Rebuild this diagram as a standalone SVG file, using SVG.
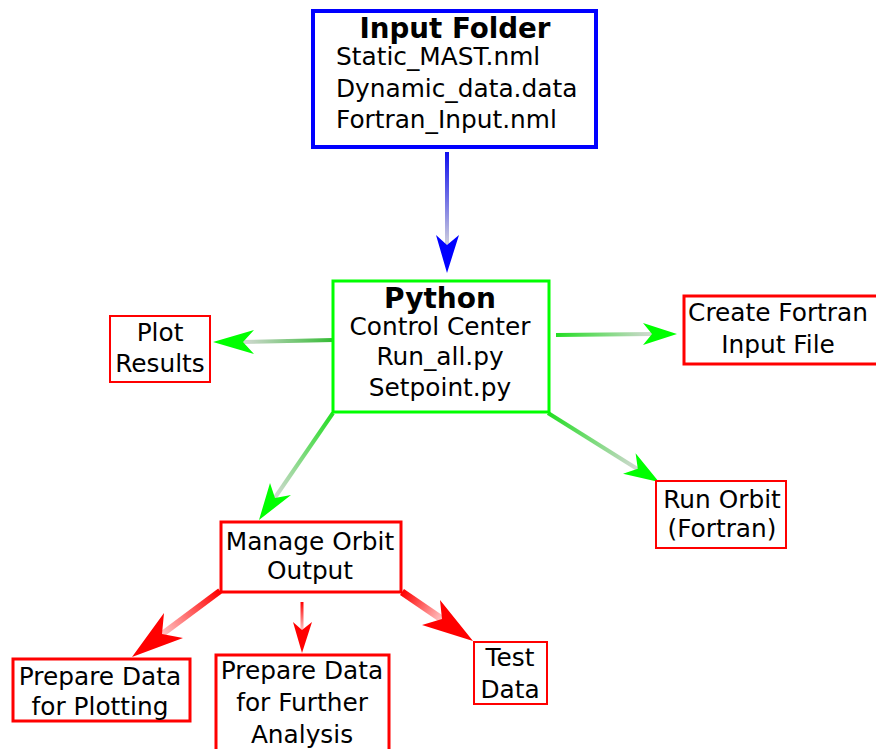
<svg xmlns="http://www.w3.org/2000/svg" width="876" height="749" viewBox="0 0 876 749">
<style>
text { font-family: "DejaVu Sans", "Liberation Sans", sans-serif; fill: #000; }
.t { font-size: 24.8px; }
.b { font-size: 27.7px; font-weight: bold; }
.c { text-anchor: middle; }
.box { fill: #fff; }
.blue { stroke: #0000ff; stroke-width: 4; }
.green { stroke: #00ff00; stroke-width: 3; }
.red2 { stroke: #ff0000; stroke-width: 2; }
.red3 { stroke: #ff0000; stroke-width: 3; }
.ln { fill: none; stroke-linecap: butt; }
.hb { fill: #0000ff; }
.hg { fill: #00ff00; }
.hr { fill: #ff0000; }
</style>
<defs>
<linearGradient id="gB" gradientUnits="userSpaceOnUse" x1="447" y1="153" x2="447" y2="245"><stop offset="0" stop-color="#1010ee"/><stop offset="1" stop-color="#d0d0dd"/></linearGradient>
<linearGradient id="gPl" gradientUnits="userSpaceOnUse" x1="333" y1="340" x2="243" y2="342"><stop offset="0" stop-color="#33bb33"/><stop offset="1" stop-color="#d4d8d4"/></linearGradient>
<linearGradient id="gCr" gradientUnits="userSpaceOnUse" x1="556" y1="335" x2="652" y2="334"><stop offset="0" stop-color="#22dd22"/><stop offset="1" stop-color="#d4d8d4"/></linearGradient>
<linearGradient id="gRo" gradientUnits="userSpaceOnUse" x1="548" y1="413" x2="638" y2="469"><stop offset="0" stop-color="#22dd22"/><stop offset="1" stop-color="#d4d8d4"/></linearGradient>
<linearGradient id="gMo" gradientUnits="userSpaceOnUse" x1="333" y1="413" x2="274" y2="498"><stop offset="0" stop-color="#22dd22"/><stop offset="1" stop-color="#d4d8d4"/></linearGradient>
<linearGradient id="gR1" gradientUnits="userSpaceOnUse" x1="220" y1="591" x2="162" y2="634"><stop offset="0" stop-color="#ff0000"/><stop offset="1" stop-color="#ffc4c4"/></linearGradient>
<linearGradient id="gR2" gradientUnits="userSpaceOnUse" x1="302" y1="602" x2="302" y2="630"><stop offset="0" stop-color="#ff0000"/><stop offset="1" stop-color="#ffc4c4"/></linearGradient>
<linearGradient id="gR3" gradientUnits="userSpaceOnUse" x1="402" y1="592" x2="442" y2="619"><stop offset="0" stop-color="#ff0000"/><stop offset="1" stop-color="#ffc4c4"/></linearGradient>
</defs>

<g id="connectors">
  <line class="ln" x1="447" y1="152" x2="447" y2="246" stroke="url(#gB)" stroke-width="4"/>
  <polygon class="hb" points="447,273 436,235 447,245 459,235"/>

  <line class="ln" x1="333" y1="340" x2="242" y2="342" stroke="url(#gPl)" stroke-width="4"/>
  <polygon class="hg" points="213,342 254,330 243,342 254,354"/>

  <line class="ln" x1="556" y1="335" x2="653" y2="334" stroke="url(#gCr)" stroke-width="4"/>
  <polygon class="hg" points="677,334 643,323 652,334 643,345"/>

  <line class="ln" x1="548" y1="413" x2="639" y2="470" stroke="url(#gRo)" stroke-width="4"/>
  <polygon class="hg" points="659,482 623,473.7 637.8,468.8 635.6,453.3"/>

  <line class="ln" x1="333" y1="413" x2="274" y2="499" stroke="url(#gMo)" stroke-width="4"/>
  <polygon class="hg" points="259,520 270,483 275,498 291,495"/>

  <line class="ln" x1="220" y1="591" x2="161" y2="635" stroke="url(#gR1)" stroke-width="6"/>
  <polygon class="hr" points="132,657 164,613 162,634 183,638"/>

  <line class="ln" x1="302" y1="602" x2="302" y2="631" stroke="url(#gR2)" stroke-width="3"/>
  <polygon class="hr" points="302,653 293,622 302,630 312,622"/>

  <line class="ln" x1="402" y1="592" x2="443" y2="620" stroke="url(#gR3)" stroke-width="7"/>
  <polygon class="hr" points="473,641 440,600 442,619 422,625"/>
</g>

<g id="input-folder">
  <rect class="box blue" x="313" y="11" width="283" height="136"/>
  <text class="b c" x="455" y="38">Input Folder</text>
  <text class="t" x="336" y="65">Static_MAST.nml</text>
  <text class="t" x="336" y="97">Dynamic_data.data</text>
  <text class="t" x="336" y="128">Fortran_Input.nml</text>
</g>

<g id="python">
  <rect class="box green" x="333" y="281" width="216" height="131"/>
  <text class="c" x="440" y="308" style="font-size:28px;font-weight:bold">Python</text>
  <text class="t c" x="440" y="335">Control Center</text>
  <text class="t c" x="440" y="365">Run_all.py</text>
  <text class="t c" x="440" y="396">Setpoint.py</text>
</g>

<g id="plot-results">
  <rect class="box red2" x="110" y="316" width="100" height="66"/>
  <text class="t c" x="160" y="341">Plot</text>
  <text class="t c" x="160" y="372">Results</text>
</g>

<g id="create-fortran">
  <rect class="box red3" x="684" y="296" width="194" height="68"/>
  <text class="t c" x="778" y="321">Create Fortran</text>
  <text class="t c" x="778" y="353">Input File</text>
</g>

<g id="run-orbit">
  <rect class="box red2" x="656" y="481" width="130" height="67"/>
  <text class="t c" x="722" y="508">Run Orbit</text>
  <text class="t c" x="722" y="537">(Fortran)</text>
</g>

<g id="manage-orbit">
  <rect class="box red3" x="221" y="522" width="180" height="70"/>
  <text class="t c" x="310" y="550">Manage Orbit</text>
  <text class="t c" x="310" y="579">Output</text>
</g>

<g id="prepare-plotting">
  <rect class="box red3" x="13" y="659" width="177" height="62"/>
  <text class="t c" x="100" y="685">Prepare Data</text>
  <text class="t c" x="100" y="715">for Plotting</text>
</g>

<g id="prepare-analysis">
  <rect class="box red3" x="216" y="655" width="173" height="100"/>
  <text class="t c" x="302" y="679">Prepare Data</text>
  <text class="t c" x="302" y="711">for Further</text>
  <text class="t c" x="302" y="743">Analysis</text>
</g>

<g id="test-data">
  <rect class="box red2" x="474" y="642" width="73" height="62"/>
  <text class="t c" x="510" y="666">Test</text>
  <text class="t c" x="510" y="698">Data</text>
</g>
</svg>
